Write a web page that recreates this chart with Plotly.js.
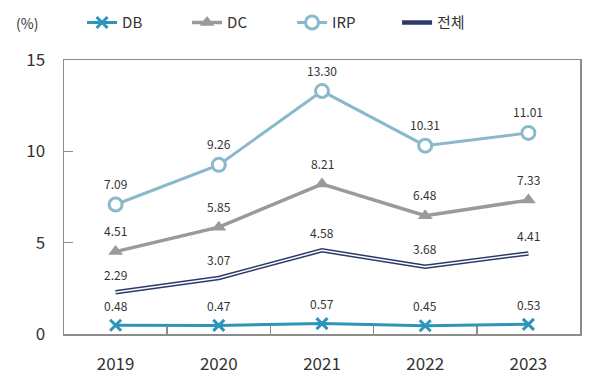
<!DOCTYPE html>
<html>
<head>
<meta charset="utf-8">
<script src="https://cdn.plot.ly/plotly-3.0.1.min.js"></script>
<style>html,body{margin:0;padding:0;background:#fff;}#chart{width:600px;height:379px;}</style>
</head>
<body>
<div id="chart"></div>
<script>
const years = ['2019', '2020', '2021', '2022', '2023'];
const db = [0.48, 0.47, 0.57, 0.45, 0.53];
const dc = [4.51, 5.85, 8.21, 6.48, 7.33];
const irp = [7.09, 9.26, 13.30, 10.31, 11.01];
const total = [2.29, 3.07, 4.58, 3.68, 4.41];
const yTicks = [0, 5, 10, 15];

const FONT = '"Noto Sans CJK KR", "Noto Sans", sans-serif';

const traces = [
  {x: years, y: db, name: 'DB', type: 'scatter', mode: 'lines+markers',
   line: {color: '#2f95b8', width: 3},
   marker: {symbol: 'x-thin', size: 11, color: '#2f95b8', line: {color: '#2f95b8', width: 3}}},
  {x: years, y: dc, name: 'DC', type: 'scatter', mode: 'lines+markers',
   line: {color: '#9a9a9c', width: 3.5},
   marker: {symbol: 'triangle-up', size: 13, color: '#9a9a9c'}},
  {x: years, y: irp, name: 'IRP', type: 'scatter', mode: 'lines+markers',
   line: {color: '#8ab9cb', width: 3},
   marker: {symbol: 'circle', size: 13, color: '#ffffff', line: {color: '#8ab9cb', width: 3}}},
  {x: years, y: total, name: '전체', type: 'scatter', mode: 'lines',
   line: {color: '#2c3a6a', width: 4.5}},
  {x: years, y: total, name: '전체 inner', type: 'scatter', mode: 'lines', showlegend: false,
   line: {color: '#ffffff', width: 1.5}, hoverinfo: 'skip'}
];

function fmt(v){ return v.toFixed(2); }
const annotations = [];
[[db, 20], [dc, 21], [irp, 21], [total, 18]].forEach(([arr, shift]) => {
  arr.forEach((v, i) => {
    annotations.push({x: i, y: v, xref: 'x', yref: 'y', text: fmt(v), showarrow: false,
      yshift: shift, font: {family: FONT, size: 12, color: '#333333'}});
  });
});
annotations.push({xref: 'paper', yref: 'paper', x: -0.072, y: 1.135, xanchor: 'center', yanchor: 'middle',
  text: '(%)', showarrow: false, font: {family: FONT, size: 14, color: '#333333'}});

const layout = {
  width: 600, height: 379,
  margin: {l: 64, r: 20, t: 60, b: 45},
  paper_bgcolor: '#ffffff', plot_bgcolor: '#ffffff',
  font: {family: FONT, color: '#333333'},
  showlegend: true,
  legend: {orientation: 'h', x: 0.035, y: 0.94, yref: 'container', xanchor: 'left', yanchor: 'middle',
    entrywidth: 60, entrywidthmode: 'pixels', font: {family: FONT, size: 15, color: '#333333'},
    traceorder: 'normal', bgcolor: 'rgba(0,0,0,0)'},
  xaxis: {type: 'category', range: [-0.5, 4.5], autorange: false,
    showline: true, linecolor: '#8c8c8c', linewidth: 1.5, mirror: true,
    ticks: 'inside', ticklen: 8, tickcolor: '#8c8c8c', tickwidth: 1.5, tickson: 'boundaries',
    showgrid: false, zeroline: false, ticklabelstandoff: 14,
    tickfont: {family: FONT, size: 17, color: '#333333'}},
  yaxis: {range: [0, 15], autorange: false, tickvals: yTicks, ticktext: yTicks.map(String),
    showline: true, linecolor: '#8c8c8c', linewidth: 1.5, mirror: true,
    ticks: 'inside', ticklen: 9, tickcolor: '#8c8c8c', tickwidth: 1.5,
    showgrid: false, zeroline: false, ticklabelstandoff: 14,
    tickfont: {family: FONT, size: 17, color: '#333333'}},
  annotations: annotations
};

Plotly.newPlot('chart', traces, layout, {staticPlot: true, displayModeBar: false});
</script>
</body>
</html>
